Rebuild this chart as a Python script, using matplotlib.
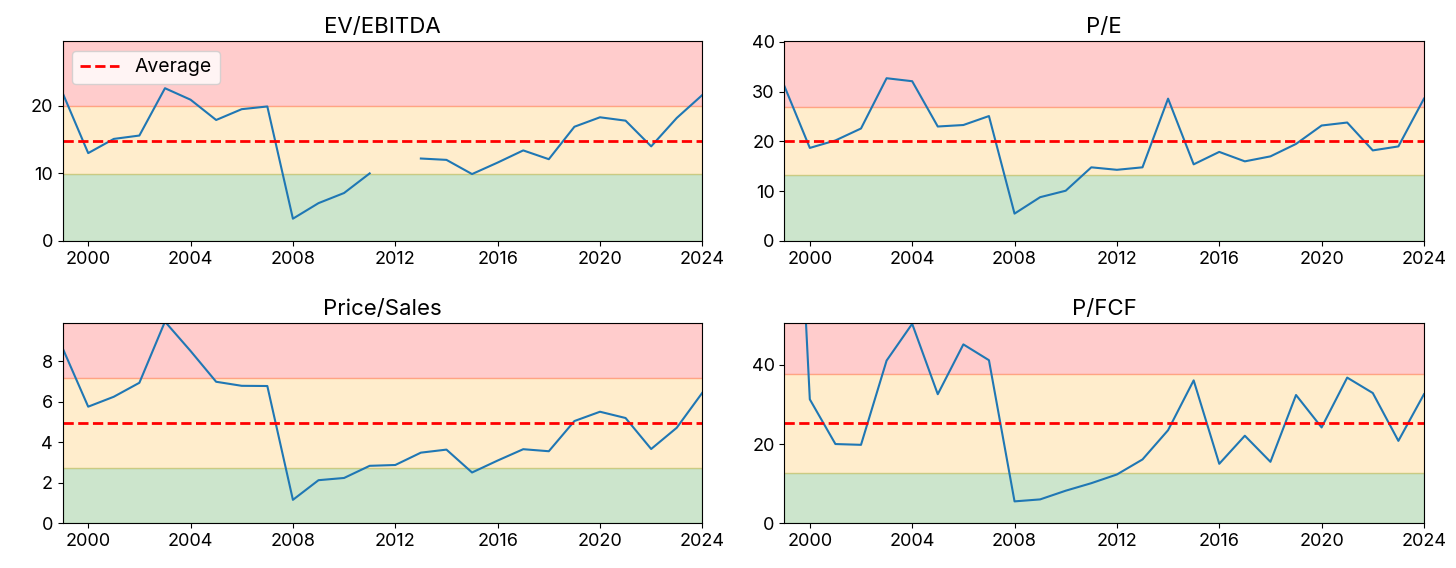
import numpy as np
import matplotlib
matplotlib.use("Agg")
import matplotlib.pyplot as plt
from matplotlib.ticker import MultipleLocator

plt.rcParams["font.family"] = ["Inter", "DejaVu Sans"]

years = list(range(1999, 2025))

ev_ebitda = [21.9, 13.0, 15.1, 15.6, 22.6, 20.9, 17.9, 19.5, 19.9, 3.3,
             5.6, 7.1, 10.0, np.nan, 12.2, 12.0, 9.9, 11.6, 13.4, 12.1,
             16.9, 18.3, 17.8, 14.0, 18.2, 21.6]
pe = [31.2, 18.7, 20.2, 22.6, 32.7, 32.1, 23.0, 23.3, 25.1, 5.5,
      8.8, 10.1, 14.8, 14.3, 14.8, 28.6, 15.4, 17.9, 16.0, 17.0,
      19.5, 23.2, 23.8, 18.2, 19.0, 28.6]
price_sales = [8.64, 5.75, 6.24, 6.93, 9.95, 8.5, 6.98, 6.78, 6.77, 1.15,
               2.12, 2.23, 2.83, 2.87, 3.48, 3.63, 2.5, 3.09, 3.65, 3.55,
               5.04, 5.5, 5.19, 3.66, 4.71, 6.44]
p_fcf = [160.0, 31.3, 20.0, 19.8, 41.1, 50.4, 32.6, 45.2, 41.2, 5.5,
         6.0, 8.2, 10.1, 12.3, 16.1, 23.5, 36.1, 15.0, 22.1, 15.5,
         32.4, 24.2, 36.8, 32.9, 20.8, 32.6]

titles = ["EV/EBITDA", "P/E", "Price/Sales", "P/FCF"]
averages = [14.8, 20.1, 4.94, 25.3]
lows = [9.85, 13.3, 2.71, 12.8]
highs = [19.9, 27.0, 7.16, 37.7]
y_steps = [10, 10, 2, 20]

series = [ev_ebitda, pe, price_sales, p_fcf]

fig, axes = plt.subplots(2, 2, figsize=(14.56, 5.68), dpi=100)
fig.subplots_adjust(left=0.043, right=0.978, bottom=0.079, top=0.928,
                    wspace=0.128, hspace=0.41)

for ax, title, values, avg, low, high, step in zip(axes.flat, titles, series,
                                                    averages, lows, highs,
                                                    y_steps):
    top = 2 * avg
    ax.axhspan(0, low, color="green", alpha=0.2)
    ax.axhspan(low, high, color="orange", alpha=0.2)
    ax.axhspan(high, top, color="red", alpha=0.2)
    ax.plot(years, values, color="#1f77b4")
    ax.axhline(avg, color="red", linestyle="--", linewidth=2, label="Average")
    ax.set_xlim(1999, 2024)
    ax.set_ylim(0, top)
    ax.xaxis.set_major_locator(MultipleLocator(4))
    ax.yaxis.set_major_locator(MultipleLocator(step))
    ax.set_title(title, fontsize=16)
    ax.tick_params(labelsize=13)

axes[0, 0].legend(loc="upper left", fontsize=14)

plt.savefig("out.png")
plt.close()
